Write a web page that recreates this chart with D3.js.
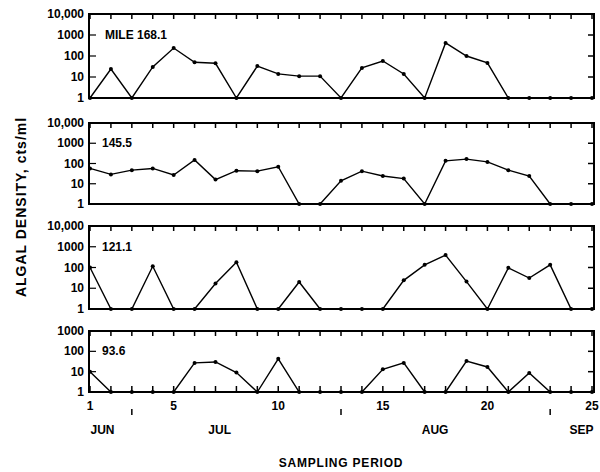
<!DOCTYPE html>
<html>
<head>
<meta charset="utf-8">
<script src="https://cdn.jsdelivr.net/npm/d3@7"></script>
<style>
  body { margin: 0; background: #fff; }
  svg { display: block; font-family: "Liberation Sans", Arial, sans-serif; }
  .lbl { font-weight: bold; fill: #000; }
</style>
</head>
<body>
<svg id="chart" width="600" height="472"></svg>
<script>
// Sampling periods 1..25
const periods = d3.range(1, 26);

// Algal density (cts/ml) per station
const mile168 = [1, 24, 1, 30, 240, 50, 45, 1, 33, 14, 11, 11, 1, 27, 58, 14, 1, 420, 100, 47, 1, 1, 1, 1, 1];
const mile145 = [57, 29, 47, 57, 27, 150, 16, 44, 42, 69, 1, 1, 14, 42, 24, 18, 1, 135, 165, 120, 47, 24, 1, 1, 1];
const mile121 = [100, 1, 1, 115, 1, 1, 17, 180, 1, 1, 20, 1, 1, 1, 1, 24, 134, 400, 21, 1, 96, 31, 134, 1, 1];
const mile93 = [10, 1, 1, 1, 1, 27, 30, 9, 1, 43, 1, 1, 1, 1, 13, 27, 1, 1, 33, 17, 1, 8.6, 1, 1, 1];

const panelNames = ["MILE 168.1", "145.5", "121.1", "93.6"];
const panelSeries = [mile168, mile145, mile121, mile93];
const panelMax = [10000, 10000, 10000, 1000];
const nameLevel = [1000, 1000, 1000, 100];

const xTickLabels = [1, 5, 10, 15, 20, 25];
const months = [{ name: "JUN", at: 1.6 }, { name: "JUL", at: 7.2 }, { name: "AUG", at: 17.5 }, { name: "SEP", at: 24.5 }];
const extraMarks = [3, 13, 23];

const svg = d3.select("#chart");
const left = 89, right = 594;

const x = d3.scaleLinear().domain([1, 25]).range([90, 592]);

// panel frames (top, bottom) in px
const frames = [[14, 98], [123, 204], [226, 309], [331, 392]];

const fmt = v => v >= 10000 ? d3.format(",")(v) : String(v);

const line = d3.line();

panelSeries.forEach((vals, i) => {
    const [top, bottom] = frames[i];
    const y = d3.scaleLog().domain([1, panelMax[i]]).range([bottom, top]);
    const decades = y.ticks().filter(t => Math.log10(t) % 1 === 0);
    const g = svg.append("g");

    // frame
    g.append("rect")
        .attr("x", left).attr("y", top)
        .attr("width", right - left).attr("height", bottom - top)
        .attr("fill", "none").attr("stroke", "#000").attr("stroke-width", 2);

    // top ticks at each period
    g.selectAll(".tt").data(periods).enter().append("line")
        .attr("x1", d => x(d)).attr("x2", d => x(d))
        .attr("y1", top).attr("y2", top + 5)
        .attr("stroke", "#000").attr("stroke-width", 1.5);

    // left / right decade ticks
    g.selectAll(".lt").data(decades.slice(1, -1)).enter().append("line")
        .attr("x1", left).attr("x2", left + 7)
        .attr("y1", d => y(d)).attr("y2", d => y(d))
        .attr("stroke", "#000").attr("stroke-width", 1.2);
    g.selectAll(".rt").data(decades.slice(1, -1)).enter().append("line")
        .attr("x1", right - 6).attr("x2", right)
        .attr("y1", d => y(d)).attr("y2", d => y(d))
        .attr("stroke", "#000").attr("stroke-width", 1.5);

    // y labels
    g.selectAll(".yl").data(decades).enter().append("text")
        .attr("class", "lbl")
        .attr("x", 84).attr("y", d => y(d) + 4)
        .attr("text-anchor", "end")
        .attr("font-size", 12)
        .text(fmt);

    // series
    const pts = vals.map((v, j) => [x(periods[j]), y(v)]);
    g.append("path")
        .attr("d", line(pts))
        .attr("fill", "none").attr("stroke", "#000").attr("stroke-width", 1.4);
    g.selectAll(".dot").data(pts).enter().append("circle")
        .attr("cx", d => d[0]).attr("cy", d => d[1]).attr("r", 2)
        .attr("fill", "#000");

    // station label
    g.append("text")
        .attr("class", "lbl")
        .attr("x", i === 0 ? 105 : 102)
        .attr("y", y(nameLevel[i]) + 4)
        .attr("font-size", 12)
        .text(panelNames[i]);

    if (i === 3) {
        g.selectAll(".bt").data(periods).enter().append("line")
            .attr("x1", d => x(d)).attr("x2", d => x(d))
            .attr("y1", bottom).attr("y2", bottom - 6)
            .attr("stroke", "#000").attr("stroke-width", 1.5);
    }
});

// x tick labels
svg.selectAll(".xl").data(xTickLabels).enter().append("text")
    .attr("class", "lbl")
    .attr("x", d => x(d)).attr("y", 410)
    .attr("text-anchor", "middle").attr("font-size", 12)
    .text(d => d);

svg.selectAll(".xm").data(extraMarks).enter().append("line")
    .attr("x1", d => x(d)).attr("x2", d => x(d))
    .attr("y1", 409).attr("y2", 415)
    .attr("stroke", "#000").attr("stroke-width", 1.5);

svg.selectAll(".mo").data(months).enter().append("text")
    .attr("class", "lbl")
    .attr("x", d => x(d.at)).attr("y", 434)
    .attr("text-anchor", "middle").attr("font-size", 12)
    .text(d => d.name);

svg.append("text")
    .attr("class", "lbl")
    .attr("x", 341).attr("y", 467)
    .attr("text-anchor", "middle").attr("font-size", 12)
    .attr("letter-spacing", 0.8)
    .text("SAMPLING PERIOD");

svg.append("text")
    .attr("class", "lbl")
    .attr("transform", "translate(26,207) rotate(-90)")
    .attr("text-anchor", "middle").attr("font-size", 14)
    .attr("letter-spacing", 1)
    .text("ALGAL DENSITY, cts/ml");
</script>
</body>
</html>
